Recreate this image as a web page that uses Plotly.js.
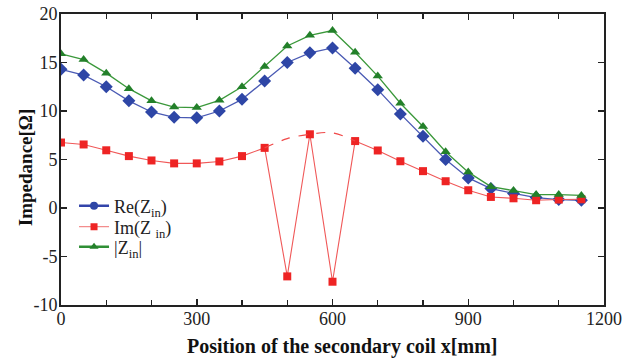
<!DOCTYPE html>
<html>
<head>
<meta charset="utf-8">
<script src="https://cdn.plot.ly/plotly-3.0.1.min.js"></script>
<style>html,body{margin:0;padding:0;background:#fff;}#chart{width:638px;height:363px;}</style>
</head>
<body>
<div id="chart"></div>
<script>
const positions = [0,50,100,150,200,250,300,350,400,450,500,550,600,650,700,750,800,850,900,950,1000,1050,1100,1150];
const reZ  = [14.3,13.7,12.5,11.05,9.9,9.35,9.3,10.0,11.2,13.1,15.0,16.0,16.5,14.4,12.2,9.7,7.4,5.0,3.1,2.0,1.5,1.07,0.87,0.8];
const imZ  = [6.75,6.55,5.95,5.35,4.9,4.6,4.6,4.8,5.35,6.2,-7.05,7.6,-7.6,6.9,5.93,4.82,3.8,2.76,1.83,1.14,1.0,0.8,0.87,0.9];
const absZ = [15.9,15.3,13.9,12.3,11.05,10.4,10.35,11.1,12.5,14.6,16.7,17.8,18.3,16.05,13.6,10.8,8.4,5.8,3.7,2.2,1.8,1.38,1.38,1.3];
const imFitX = [450,500,550,600,650];
const imFitY = [6.2,7.15,7.6,7.75,6.9];
const seriesNames = ['Re(Z<sub>in</sub>)', 'Im(Z <sub>in</sub>)', '|Z<sub>in</sub>|'];
const xTicks = [0,300,600,900,1200];
const xTickText = ['0','300','600','900','1200'];
const yTicks = [-10,-5,0,5,10,15,20];
const yTickText = ['-10','-5','0','5','10','15','20'];
const xTitle = 'Position of the secondary coil x[mm]';
const yTitle = 'Impedance[Ω]';

const serif = 'Liberation Serif, Times New Roman, serif';
const blue = '#2e46a6', red = '#ee2424', green = '#23802a';

const traces = [
  {x: positions, y: reZ, showlegend: false, mode: 'lines+markers',
   line: {color: '#4a5ab4', width: 1.3},
   marker: {symbol: 'diamond', size: 10, color: blue}},
  {x: positions, y: imZ, showlegend: false, mode: 'lines+markers',
   line: {color: '#f05858', width: 1.1},
   marker: {symbol: 'square', size: 8, color: red}},
  {x: positions, y: absZ, showlegend: false, mode: 'lines+markers',
   line: {color: '#3a983a', width: 1.3},
   marker: {symbol: 'triangle-up', size: 9, color: green}},
  {x: imFitX, y: imFitY, mode: 'lines', showlegend: false, hoverinfo: 'skip',
   line: {color: '#f04848', width: 1.2, dash: 'dash', shape: 'spline'}},
  // legend entries
  {x: [null], y: [null], name: seriesNames[0], mode: 'lines+markers', legend: 'legend',
   line: {color: '#3344aa', width: 2.5}, marker: {symbol: 'circle', size: 8, color: blue}},
  {x: [null], y: [null], name: seriesNames[1], mode: 'lines+markers', legend: 'legend2',
   line: {color: '#f07070', width: 1}, marker: {symbol: 'square', size: 7, color: red}},
  {x: [null], y: [null], name: seriesNames[2], mode: 'lines+markers', legend: 'legend3',
   line: {color: '#2f8f35', width: 2.5}, marker: {symbol: 'triangle-up', size: 8, color: green}}
];

const legendBase = {x: 0.024, xanchor: 'left', yanchor: 'middle',
  bgcolor: 'rgba(0,0,0,0)', font: {family: serif, size: 18, color: '#222'}, itemwidth: 30};

const layout = {
  width: 638, height: 363,
  margin: {l: 61, r: 34, t: 14, b: 58},
  paper_bgcolor: '#fff', plot_bgcolor: '#fff',
  font: {family: serif, color: '#222', size: 18},
  showlegend: true,
  legend:  Object.assign({}, legendBase, {y: 0.340}),
  legend2: Object.assign({}, legendBase, {y: 0.268}),
  legend3: Object.assign({}, legendBase, {y: 0.199}),
  xaxis: {range: [0, 1200], tickvals: xTicks, ticktext: xTickText, ticks: 'inside', ticklen: 6, tickwidth: 1.5,
          tickcolor: '#222', showgrid: false, zeroline: false,
          showline: true, linecolor: '#222', linewidth: 2, mirror: 'ticks',
          ticklabelstandoff: -4,
          minor: {dtick: 100, ticks: 'inside', ticklen: 5, tickwidth: 1.2, tickcolor: '#222', showgrid: false},
          tickfont: {family: serif, size: 18, color: '#222'}},
  yaxis: {range: [-10, 20], tickvals: yTicks, ticktext: yTickText, ticks: 'inside', ticklen: 6, tickwidth: 1.5,
          tickcolor: '#222', showgrid: false, zeroline: false,
          showline: true, linecolor: '#222', linewidth: 2, mirror: 'ticks',
          ticklabelstandoff: -2,
          tickfont: {family: serif, size: 18, color: '#222'}},
  annotations: [
    {text: '<b>' + xTitle + '</b>', xref: 'paper', yref: 'paper', x: 0.5175, y: -0.144,
     xanchor: 'center', yanchor: 'middle', showarrow: false,
     font: {family: serif, size: 20, color: '#111'}},
    {text: '<b>' + yTitle + '</b>', xref: 'paper', yref: 'paper', x: -0.066, y: 0.474,
     xanchor: 'center', yanchor: 'middle', showarrow: false, textangle: -90,
     font: {family: serif, size: 19, color: '#111'}}
  ]
};

Plotly.newPlot('chart', traces, layout, {displayModeBar: false, staticPlot: true});
</script>
</body>
</html>
